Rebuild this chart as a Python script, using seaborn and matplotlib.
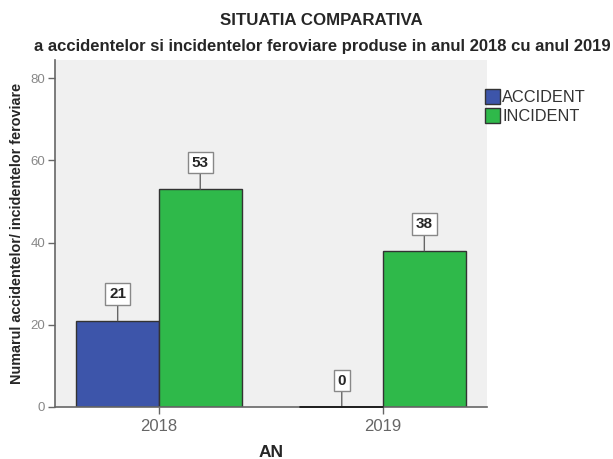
import matplotlib
matplotlib.use("Agg")
import matplotlib.pyplot as plt
import seaborn as sns
import pandas as pd

years = ["2018", "2019"]
types = ["ACCIDENT", "INCIDENT"]
accident = [21, 0]
incident = [53, 38]
colors = ["#3d55aa", "#2fb94a"]

df = pd.DataFrame({
    "AN": years * 2,
    "Tip": ["ACCIDENT"] * 2 + ["INCIDENT"] * 2,
    "Numar": accident + incident,
})

sns.set_theme(style="white")
plt.rcParams['font.family'] = ['Liberation Sans', 'DejaVu Sans']

fig = plt.figure(figsize=(6.13, 4.59), dpi=100)
ax = fig.add_axes([0.0897, 0.1133, 0.7048, 0.756])
ax.set_facecolor("#f0f0f0")

sns.barplot(data=df, x="AN", y="Numar", hue="Tip", hue_order=types,
            palette=colors, width=0.737, edgecolor="#333333", linewidth=1.0,
            saturation=1, ax=ax, legend=True)

ax.set_xlim(-0.464, 1.464)
ax.set_ylim(0, 84.4)
ax.set_yticks([0, 20, 40, 60, 80])
for s in ["top", "right"]:
    ax.spines[s].set_visible(False)
for s in ["left", "bottom"]:
    ax.spines[s].set_color("#666666")
    ax.spines[s].set_linewidth(1.2)
ax.tick_params(axis="both", which="both", colors="#666666", labelcolor="#666666",
               direction="out", length=5, width=1, labelsize=12, left=True, bottom=True)
ax.tick_params(axis="y", labelsize=9.5, labelcolor="#888888", pad=2)

ax.set_xlabel("AN", fontsize=12.5, fontweight="bold", labelpad=8)
ax.set_ylabel("Numarul accidentelor/ incidentelor feroviare", fontsize=10.4,
              fontweight="bold", labelpad=5)

# value labels with leader lines
for cont in ax.containers:
    for bar in cont:
        h = bar.get_height()
        xc = bar.get_x() + bar.get_width() / 2
        if h == 0:
            ax.plot([bar.get_x(), bar.get_x() + bar.get_width()], [0, 0],
                    color="#111111", lw=1.2, zorder=5, clip_on=False)
        ax.annotate(f"{int(h)}", xy=(xc, h), xytext=(0, 14), textcoords="offset points",
                    ha="center", va="bottom", fontsize=11, fontweight="bold",
                    bbox=dict(boxstyle="square,pad=0.25", fc="white", ec="#888888", lw=1),
                    arrowprops=dict(arrowstyle="-", color="#666666", lw=1,
                                    shrinkA=0, shrinkB=0))

leg = ax.legend(title=None, loc="upper left", bbox_to_anchor=(0.995, 0.915),
                frameon=False, fontsize=11.8, handlelength=0.95, handleheight=1.0,
                handletextpad=0.1, labelspacing=0.15, borderaxespad=0.0, borderpad=0.0)
for t in leg.get_texts():
    t.set_color("#333333")

fig.text(0.525, 0.956, "SITUATIA COMPARATIVA", ha="center", va="center",
         fontsize=12.2, fontweight="bold")
fig.text(0.525, 0.898, "a accidentelor si incidentelor feroviare produse in anul 2018 cu anul 2019",
         ha="center", va="center", fontsize=12.0, fontweight="bold")

fig.savefig("out.png", dpi=100)
